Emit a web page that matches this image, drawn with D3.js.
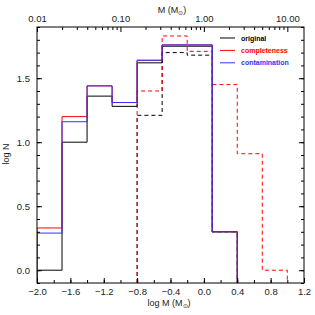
<!DOCTYPE html>
<html>
<head>
<meta charset="utf-8">
<script src="https://cdn.jsdelivr.net/npm/d3@7"></script>
<style>
body { margin: 0; background: #fff; }
text { font-family: "Liberation Sans", Arial, sans-serif; }
</style>
</head>
<body>
<script>
// bin edges in log M
var binEdges = [-2.0, -1.7, -1.4, -1.1, -0.8, -0.5, -0.2, 0.1, 0.4, 0.7, 1.0];
// log N per bin, solid histograms start at first edge
var original = [0.0, 1.0, 1.36, 1.28, 1.62, 1.75, 1.75, 0.30];
var completeness = [0.33, 1.20, 1.44, 1.31, 1.64, 1.76, 1.76, 0.30];
var contamination = [0.29, 1.16, 1.44, 1.31, 1.64, 1.76, 1.76, 0.30];
// dashed histograms start at bin index 4 (log M = -0.8)
var originalDashed = [1.21, 1.70, 1.68, 0.30];
var completenessDashed = [1.40, 1.83, 1.71, 1.45, 0.91, 0.0];
var dashedStart = 4;
var bottomTicks = [-2.0, -1.6, -1.2, -0.8, -0.4, 0.0, 0.4, 0.8, 1.2];
var leftTicks = [0.0, 0.5, 1.0, 1.5];
var topTicks = [0.01, 0.1, 1, 10];
var topLabels = ["0.01", "0.10", "1.00", "10.00"];
var legendNames = ["original", "completeness", "contamination"];
var legendColors = ["#000", "#f00", "#33f"];

var W = 315, H = 315;
var m = {left: 37, right: 304, top: 27, bottom: 283};

var svg = d3.select("body").append("svg").attr("width", W).attr("height", H);

var x = d3.scaleLinear().domain([-2.0, 1.2]).range([m.left, m.right]);
var y = d3.scaleLinear().domain([-0.1, 1.9]).range([m.bottom, m.top]);
var xTop = d3.scaleLog().domain([Math.pow(10, -2), Math.pow(10, 1.2)]).range([m.left, m.right]);

svg.append("clipPath").attr("id", "clip").append("rect")
  .attr("x", m.left).attr("y", m.top).attr("width", m.right - m.left).attr("height", m.bottom - m.top);

function stepPoints(vals, start) {
  var pts = [[binEdges[start], -0.1]];
  vals.forEach(function(v, i) {
    pts.push([binEdges[start + i], v]);
    pts.push([binEdges[start + i + 1], v]);
  });
  pts.push([binEdges[start + vals.length], -0.1]);
  return pts;
}

var line = d3.line().x(function(d){ return x(d[0]); }).y(function(d){ return y(d[1]); });
var g = svg.append("g").attr("clip-path", "url(#clip)");

function drawStep(vals, start, color, dashed) {
  g.append("path").attr("d", line(stepPoints(vals, start)))
    .attr("fill", "none").attr("stroke", color).attr("stroke-width", 1)
    .attr("stroke-dasharray", dashed ? "4,3" : null);
}

drawStep(originalDashed, dashedStart, "#000", true);
drawStep(completenessDashed, dashedStart, "#f00", true);
drawStep(original, 0, "#000", false);
drawStep(completeness, 0, "#f00", false);
drawStep(contamination, 0, "#33f", false);

// frame
svg.append("rect").attr("x", m.left).attr("y", m.top)
  .attr("width", m.right - m.left).attr("height", m.bottom - m.top)
  .attr("fill", "none").attr("stroke", "#000").attr("stroke-width", 1);

var fmt = function(d){ return d3.format(".1f")(d).replace("-", "\u2212"); };

// bottom axis, ticks inward
var axB = svg.append("g").attr("transform", "translate(0," + m.bottom + ")");
axB.call(d3.axisBottom(x).tickValues(d3.range(-2.0, 1.21, 0.2)).tickSize(-3).tickFormat(""));
axB.append("g").call(d3.axisBottom(x).tickValues(bottomTicks).tickSize(-5).tickPadding(5).tickFormat(fmt));

// top axis
var axT = svg.append("g").attr("transform", "translate(0," + m.top + ")");
var minorTop = [];
[0.01, 0.1, 1, 10].forEach(function(dec){ for (var k = 2; k <= 9; k++) { if (dec * k <= Math.pow(10, 1.2)) minorTop.push(dec * k); } });
axT.call(d3.axisTop(xTop).tickValues(minorTop).tickSize(-3).tickFormat(""));
axT.append("g").call(d3.axisTop(xTop).tickValues(topTicks).tickSize(-5).tickPadding(5)
  .tickFormat(function(d, i){ return topLabels[i]; }));

// left axis
var axL = svg.append("g").attr("transform", "translate(" + m.left + ",0)");
axL.call(d3.axisLeft(y).tickValues(d3.range(-0.1, 1.91, 0.1)).tickSize(-3).tickFormat(""));
axL.append("g").call(d3.axisLeft(y).tickValues(leftTicks).tickSize(-5).tickPadding(7).tickFormat(fmt));

// right axis, no labels
var axR = svg.append("g").attr("transform", "translate(" + m.right + ",0)");
axR.call(d3.axisRight(y).tickValues(d3.range(-0.1, 1.91, 0.1)).tickSize(-3).tickFormat(""));
axR.append("g").call(d3.axisRight(y).tickValues(leftTicks).tickSize(-5).tickFormat(""));

svg.selectAll(".domain").remove();
svg.selectAll(".tick line").attr("stroke", "#000");
svg.selectAll(".tick text").attr("font-size", 9.5).attr("fill", "#222")
  .attr("font-family", "'Liberation Sans', Arial, sans-serif");

// axis titles
var bt = svg.append("text").attr("x", 169).attr("y", 306).attr("text-anchor", "middle").attr("font-size", 9).attr("fill", "#222");
bt.append("tspan").text("log M (M");
bt.append("tspan").attr("font-size", 6).attr("dy", 2).text("\u2299");
bt.append("tspan").attr("dy", -2).text(")");

var tt = svg.append("text").attr("x", 172).attr("y", 13).attr("text-anchor", "middle").attr("font-size", 9).attr("fill", "#222");
tt.append("tspan").text("M (M");
tt.append("tspan").attr("font-size", 6).attr("dy", 2).text("\u2299");
tt.append("tspan").attr("dy", -2).text(")");

svg.append("text").attr("transform", "translate(9,154) rotate(-90)")
  .attr("text-anchor", "middle").attr("font-size", 9).attr("fill", "#222").text("log N");

// legend
var leg = svg.append("g");
legendNames.forEach(function(name, i) {
  var ly = 38 + i * 12.4;
  leg.append("line").attr("x1", 220).attr("x2", 235).attr("y1", ly).attr("y2", ly)
    .attr("stroke", legendColors[i]).attr("stroke-width", 1);
  leg.append("text").attr("x", 241).attr("y", ly + 2.5).attr("font-size", 7).attr("font-weight", "bold")
    .attr("fill", legendColors[i]).text(name);
});
</script>
</body>
</html>
